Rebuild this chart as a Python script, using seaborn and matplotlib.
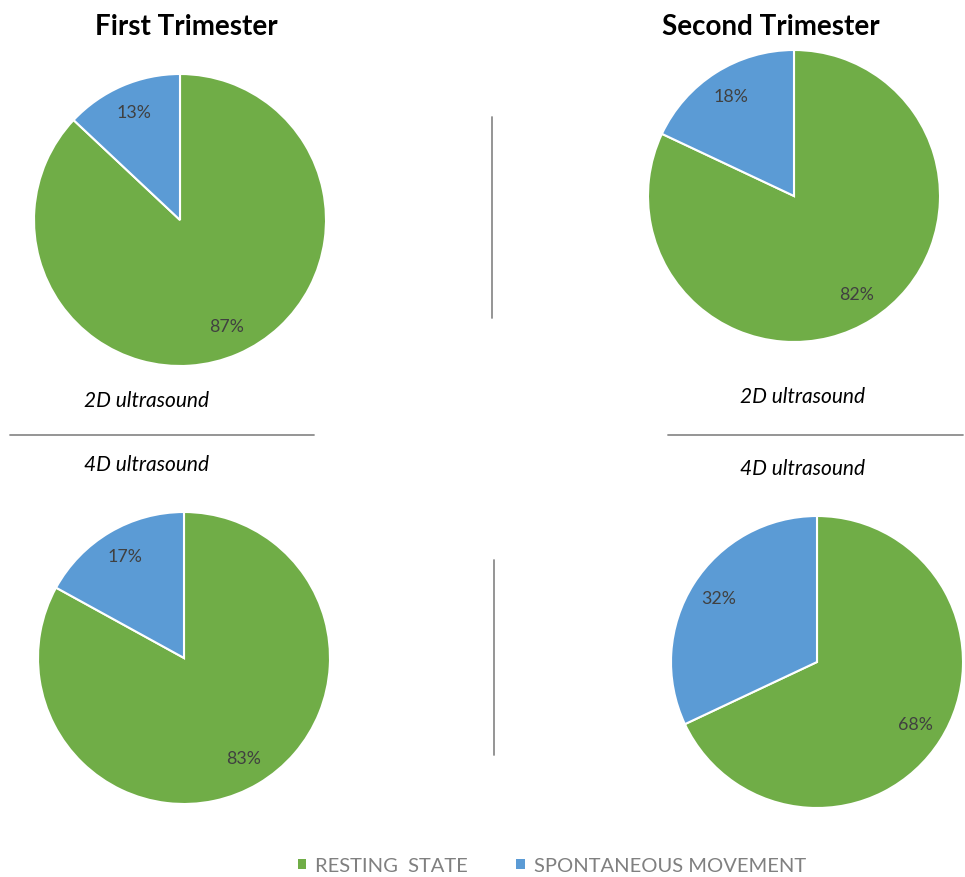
import matplotlib
matplotlib.use("Agg")
import matplotlib.pyplot as plt
from matplotlib.patches import Patch
from matplotlib.lines import Line2D
import seaborn as sns

# data
categories = ['RESTING  STATE', 'SPONTANEOUS MOVEMENT']
first_2d = [87, 13]
second_2d = [82, 18]
first_4d = [83, 17]
second_4d = [68, 32]
trimesters = ['First Trimester', 'Second Trimester']
methods = ['2D ultrasound', '4D ultrasound']

sns.set_theme(style="white")
plt.rcParams['font.family'] = ['Lato', 'DejaVu Sans']
colors = ['#70AD47', '#5B9BD5']

W, H = 965, 877
fig = plt.figure(figsize=(W / 100, H / 100), dpi=100)


def px_axes(cx, cy, r):
    # axes box in pixel coords (origin top-left)
    return fig.add_axes([(cx - r) / W, (H - cy - r) / H, 2 * r / W, 2 * r / H])


def draw_pie(ax, vals):
    ax.pie(vals, colors=colors, startangle=90, counterclock=False,
           autopct='%1.0f%%', pctdistance=0.8, radius=1,
           wedgeprops=dict(edgecolor='white', linewidth=1.5),
           textprops=dict(color='#404040', fontsize=12.8))
    ax.set_xlim(-1, 1)
    ax.set_ylim(-1, 1)
    ax.set_aspect('equal')
    ax.axis('off')


draw_pie(px_axes(180, 220, 146), first_2d)
draw_pie(px_axes(794, 196, 146), second_2d)
draw_pie(px_axes(184, 658, 146), first_4d)
draw_pie(px_axes(817, 662, 146), second_4d)

# titles and sublabels
fig.text(186 / W, 1 - 27 / H, trimesters[0], ha='center', va='center',
         fontsize=20, fontweight='bold', color='black')
fig.text(771 / W, 1 - 27 / H, trimesters[1], ha='center', va='center',
         fontsize=20, fontweight='bold', color='black')
for x, y, t in [(147, 401, methods[0]), (802, 397, methods[0]),
                (147, 465, methods[1]), (802, 469, methods[1])]:
    fig.text(x / W, 1 - y / H, t, ha='center', va='center', fontsize=15,
             style='italic', color='black')

# separator lines
sep = '#8c8c8c'
fig.add_artist(Line2D([492 / W, 492 / W], [1 - 117 / H, 1 - 318 / H], color=sep, lw=1.3))
fig.add_artist(Line2D([494 / W, 494 / W], [1 - 560 / H, 1 - 755 / H], color=sep, lw=1.3))
fig.add_artist(Line2D([10 / W, 314 / W], [1 - 435 / H, 1 - 435 / H], color=sep, lw=1.3))
fig.add_artist(Line2D([668 / W, 963 / W], [1 - 435 / H, 1 - 435 / H], color=sep, lw=1.3))

# legend
handles = [Patch(facecolor=c, edgecolor='none') for c in colors]
leg = fig.legend(handles, categories, loc='center', bbox_to_anchor=(552 / W, 1 - 866 / H),
                 ncol=2, frameon=False, fontsize=14.5, handlelength=0.4, handleheight=0.4,
                 handletextpad=0.45, columnspacing=2.4)
for t in leg.get_texts():
    t.set_color('#808080')

fig.savefig('out.png', dpi=100, facecolor='white')
